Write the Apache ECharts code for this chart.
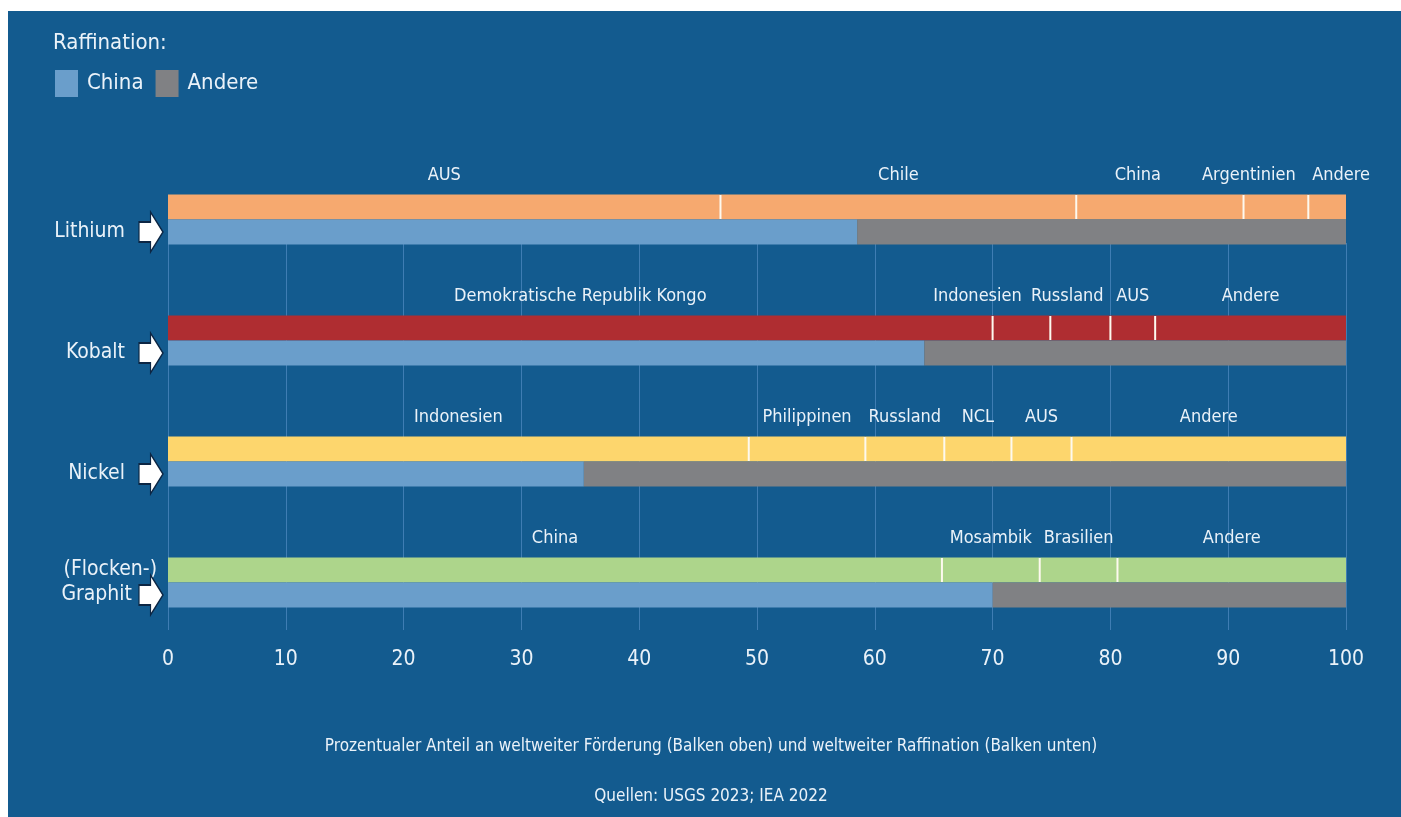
<!DOCTYPE html>
<html>
<head>
<meta charset="utf-8">
<script src="https://cdn.jsdelivr.net/npm/echarts@6/dist/echarts.min.js"></script>
<style>
  html, body { margin: 0; padding: 0; background: #ffffff; }
  #chart { width: 1401px; height: 817px; }
</style>
</head>
<body>
<div id="chart"></div>
<script>
// Raw materials (one row each: production bar on top, refining bar below)
const minerals = ['Lithium', 'Kobalt', 'Nickel', '(Flocken-)\nGraphit'];

// Share of world production by country, in percent
const lithiumCountries = ['AUS', 'Chile', 'China', 'Argentinien', 'Andere'];
const lithiumShares = [46.9, 30.2, 14.2, 5.5, 3.2];

const cobaltCountries = ['Demokratische Republik Kongo', 'Indonesien', 'Russland', 'AUS', 'Andere'];
const cobaltShares = [70.0, 4.9, 5.1, 3.8, 16.2];

const nickelCountries = ['Indonesien', 'Philippinen', 'Russland', 'NCL', 'AUS', 'Andere'];
const nickelShares = [49.3, 9.9, 6.7, 5.7, 5.1, 23.3];

const graphiteCountries = ['China', 'Mosambik', 'Brasilien', 'Andere'];
const graphiteShares = [65.7, 8.3, 6.6, 19.4];

// Share of world refining, in percent
const refiningChina = [58.5, 64.2, 35.3, 70.0];
const refiningOther = [41.5, 35.8, 64.7, 30.0];

// Percent axis ticks
const xTicks = [0, 10, 20, 30, 40, 50, 60, 70, 80, 90, 100];

// ---- styling ----
const FONT = '"Liberation Sans Narrow", "DejaVu Sans Condensed", "Roboto", sans-serif';
const TEXT = '#eaf2f9';
const BG = '#135b8f';
const GRIDLINE = '#3f7db3';
const productionColors = ['#f6a96f', '#af2d31', '#fdd66d', '#add58b'];
const chinaColor = '#6a9ecb';
const otherColor = '#808184';

const countries = [lithiumCountries, cobaltCountries, nickelCountries, graphiteCountries];
const shares = [lithiumShares, cobaltShares, nickelShares, graphiteShares];

// Horizontal nudges for crowded country names: "mineralIndex-segmentIndex" -> px
const labelShift = { '0-2': -22, '0-3': -27, '0-4': 14, '1-1': -44, '1-2': -13 };

const BAR_W = 25;
const maxSegments = Math.max(...shares.map(s => s.length));

const series = [];

// Production: one stacked series per segment position
for (let s = 0; s < maxSegments; s++) {
  series.push({
    type: 'bar',
    name: 'prod' + s,
    stack: 'production',
    barWidth: BAR_W,
    barGap: '0%',
    xAxisIndex: 0, yAxisIndex: 0,
    data: minerals.map((m, i) => {
      if (shares[i][s] == null) return '-';
      const shift = labelShift[i + '-' + s] || 0;
      return {
        value: shares[i][s],
        itemStyle: { color: productionColors[i] },
        label: { offset: [shift, 0] }
      };
    }),
    label: {
      show: true,
      position: 'top',
      distance: 10,
      color: TEXT,
      fontFamily: FONT,
      fontSize: 18,
      formatter: p => countries[p.dataIndex][s] || ''
    }
  });
}

// Refining
series.push({
  type: 'bar', name: 'China', stack: 'refining', barWidth: BAR_W, barGap: '0%',
  xAxisIndex: 0, yAxisIndex: 0,
  itemStyle: { color: chinaColor }, data: refiningChina
});
series.push({
  type: 'bar', name: 'Andere', stack: 'refining', barWidth: BAR_W, barGap: '0%',
  xAxisIndex: 0, yAxisIndex: 0,
  itemStyle: { color: otherColor }, data: refiningOther
});

// White separators between production segments
const separators = [];
shares.forEach((row, i) => {
  let cum = 0;
  row.forEach((v, k) => {
    cum += v;
    if (k < row.length - 1) separators.push([cum, i]);
  });
});
series.push({
  type: 'scatter', name: 'sep', xAxisIndex: 0, yAxisIndex: 0,
  symbol: 'rect', symbolSize: [2, BAR_W - 1], symbolOffset: [0, -BAR_W / 2],
  itemStyle: { color: '#fdf9ef', opacity: 1 }, z: 5, silent: true,
  data: separators
});

// Arrows pointing at the refining bars
series.push({
  type: 'scatter', name: 'arrow', xAxisIndex: 0, yAxisIndex: 0,
  symbol: 'path://M0,10 L12,10 L12,0 L25,20 L12,40 L12,30 L0,30 Z',
  symbolSize: [24, 40], symbolOffset: [-17, BAR_W / 2],
  itemStyle: { color: '#ffffff', opacity: 1, borderColor: '#0c2644', borderWidth: 1.5 },
  z: 6, silent: true,
  data: minerals.map((m, i) => [0, i])
});

const option = {
  backgroundColor: '#ffffff',
  animation: false,
  textStyle: { fontFamily: FONT },
  graphic: [
    { type: 'rect', shape: { x: 8, y: 11, width: 1393, height: 806 },
      style: { fill: BG }, z: -10, silent: true },
    { type: 'text', x: 711, y: 747, z: 10,
      style: { text: 'Prozentualer Anteil an weltweiter Förderung (Balken oben) und weltweiter Raffination (Balken unten)',
        fill: TEXT, font: '17px ' + FONT, textAlign: 'center', textVerticalAlign: 'middle' } },
    { type: 'text', x: 711, y: 797, z: 10,
      style: { text: 'Quellen: USGS 2023; IEA 2022',
        fill: TEXT, font: '17px ' + FONT, textAlign: 'center', textVerticalAlign: 'middle' } }
  ],
  title: {
    text: 'Raffination:', left: 48, top: 27,
    textStyle: { color: TEXT, fontFamily: FONT, fontSize: 22, fontWeight: 'normal' }
  },
  legend: {
    data: ['China', 'Andere'],
    left: 50, top: 65,
    icon: 'rect', itemWidth: 23, itemHeight: 27, itemGap: 12,
    textStyle: { color: TEXT, fontFamily: FONT, fontSize: 22, padding: [0, 0, 0, 4] },
    selectedMode: false
  },
  grid: [
    { left: 168, right: 55, top: 159, height: 484 },
    { left: 168, right: 55, top: 243, height: 387 }
  ],
  xAxis: [
    { gridIndex: 0, type: 'value', min: 0, max: 100, interval: 10, show: false },
    { gridIndex: 1, type: 'value', min: xTicks[0], max: xTicks[xTicks.length - 1], interval: 10,
      axisLine: { show: false }, axisTick: { show: false },
      splitLine: { show: true, lineStyle: { color: GRIDLINE, width: 1 } },
      axisLabel: { color: TEXT, fontFamily: FONT, fontSize: 21, margin: 19 } }
  ],
  yAxis: [
    { gridIndex: 0, type: 'category', inverse: true, data: minerals,
      axisLine: { show: false }, axisTick: { show: false }, splitLine: { show: false },
      axisLabel: {
        margin: 11, color: TEXT, fontFamily: FONT, fontSize: 21, lineHeight: 25,
        formatter: v => v.indexOf('\n') >= 0
          ? v.split('\n').map((t, k) => '{' + (k === 0 ? 'a' : 'b') + '|' + t + '}').join('\n')
          : '\n{c|' + v + '}',
        rich: {
          a: { color: TEXT, fontFamily: FONT, fontSize: 21, lineHeight: 25 },
          b: { color: TEXT, fontFamily: FONT, fontSize: 21, lineHeight: 25, padding: [0, 25, 0, 0] },
          c: { color: TEXT, fontFamily: FONT, fontSize: 21, lineHeight: 25, padding: [0, 32, 0, 0] }
        }
      } },
    { gridIndex: 1, type: 'value', show: false }
  ],
  series: series
};

const chart = echarts.init(document.getElementById('chart'), null, { renderer: 'canvas' });
chart.setOption(option);
</script>
</body>
</html>
